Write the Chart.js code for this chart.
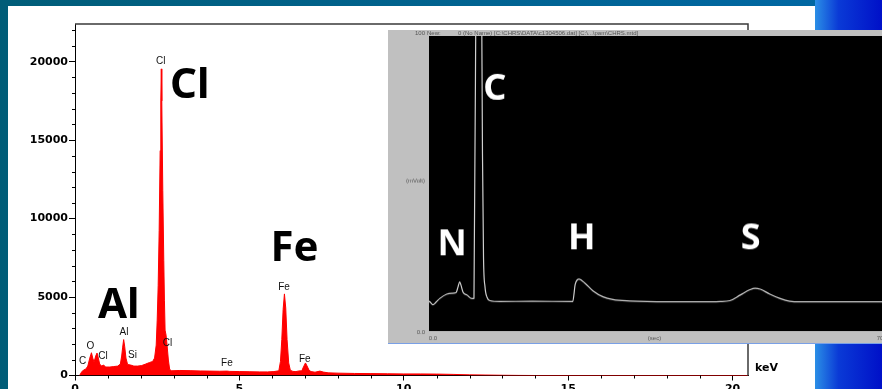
<!DOCTYPE html>
<html>
<head>
<meta charset="utf-8">
<script src="https://cdn.jsdelivr.net/npm/chart.js@4.4.1/dist/chart.umd.min.js"></script>
<style>
  body { margin: 0; width: 882px; height: 389px; overflow: hidden; position: relative;
         background: linear-gradient(to right, #005d78, #0068a6); }
  #panel { position: absolute; left: 8px; top: 6px; width: 807px; height: 383px; background: #fff; }
  #side { position: absolute; left: 815px; top: 0; width: 67px; height: 389px;
          background: linear-gradient(to right, #2b8fe6, #0a3ad6 35%, #0010c8); }
  #eds { position: absolute; left: 0; top: 0; }
  #gc { position: absolute; left: 388px; top: 30px; background: #c0c0c0; border-bottom: 1px solid #7aa0e6; }
</style>
</head>
<body>
<div id="panel"></div>
<div id="side"></div>
<canvas id="eds" width="815" height="400"></canvas>
<canvas id="gc" width="520" height="314"></canvas>
<script>
// EDS spectrum (keV / counts)
const keV = [
  0.14, 0.20, 0.26, 0.33, 0.39, 0.45, 0.50, 0.54, 0.58, 0.63,
  0.67, 0.71, 0.75, 0.81, 0.87, 0.93, 1.06, 1.18, 1.30, 1.38,
  1.42, 1.45, 1.48, 1.51, 1.55, 1.60, 1.69, 1.79, 1.91, 2.03,
  2.15, 2.27, 2.36, 2.42, 2.47, 2.50, 2.53, 2.56, 2.59, 2.61,
  2.625, 2.64, 2.67, 2.70, 2.72, 2.74, 2.77, 2.80, 2.84, 2.88,
  2.94, 3.19, 3.50, 3.81, 4.10, 4.40, 4.62, 4.71, 5.01, 5.32,
  5.62, 5.86, 6.05, 6.20, 6.25, 6.29, 6.33, 6.37, 6.41, 6.45,
  6.50, 6.55, 6.63, 6.72, 6.81, 6.90, 6.95, 7.01, 7.06, 7.12,
  7.18, 7.30, 7.45, 7.55, 7.70, 8.00, 8.50, 9.00, 9.50, 10.00,
  10.50, 11.00, 11.50, 12.00, 12.50, 13.00, 13.50, 14.00, 20.47
];
const counts = [
  0, 220, 350, 410, 600, 1110, 1450, 1110, 860, 1240,
  1430, 1110, 730, 600, 670, 540, 540, 570, 600, 730,
  1240, 1810, 2290, 1870, 1110, 700, 670, 600, 600, 635,
  730, 830, 890, 1110, 1940, 3530, 5750, 9240, 14330, 17500,
  19540, 17500, 11780, 7340, 4800, 2890, 2570, 1940, 985, 380,
  300, 320, 310, 290, 280, 270, 280, 260, 250, 240,
  230, 230, 250, 300, 900, 2300, 4200, 5200, 4300, 2300,
  800, 330, 260, 250, 290, 300, 550, 800, 600, 330,
  250, 210, 280, 220, 170, 150, 130, 120, 110, 100,
  100, 90, 70, 40, 30, 15, 5, 0, 0
];
const keVTicks = [0, 5, 10, 15, 20];
const countTicks = [0, 5000, 10000, 15000, 20000];

// small peak marks on the spectrum
const peakNames = ["C", "O", "Cl", "Al", "Si", "Cl", "Cl", "Fe", "Fe", "Fe"];
const peakKeV = [0.23, 0.47, 0.85, 1.49, 1.75, 2.61, 2.81, 4.62, 6.36, 6.99];
const peakCounts = [920, 1890, 1240, 2740, 1300, 20040, 2050, 780, 5600, 1030];

// big element names
const bigNames = ["Al", "Cl", "Fe"];
const bigKeV = [1.33, 3.49, 6.68];
const bigCounts = [4415, 18460, 8040];

// inset chromatogram (sec / mVolt)
const secs = [
  0, 0.31, 0.62, 1.09, 1.71, 2.75, 3.57, 4.19, 4.50, 4.76,
  4.97, 5.28, 5.90, 6.67, 6.98, 7.37, 7.76, 8.15, 8.30, 8.46,
  8.69, 9.00, 9.47, 11.0, 16.0, 22.3, 22.7, 23.3, 24.2, 25.45,
  27.0, 28.55, 31.2, 33.8, 42.1, 45.2, 46.7, 48.3, 49.8, 50.6,
  51.4, 52.9, 54.5, 56.0, 57.6, 70.3
];
const mvolt = [
  10.2, 9.5, 8.9, 9.8, 11.1, 12.5, 12.8, 13.0, 14.9, 16.7,
  15.5, 13.2, 12.2, 11.0, 11.1, 150, 200, 120, 60, 25,
  15, 11.5, 10.3, 10.0, 10.1, 10.0, 15.9, 17.6, 16.2, 13.6,
  11.6, 10.7, 10.2, 10.0, 9.9, 10.0, 10.3, 12.2, 14.0, 14.5,
  14.2, 12.5, 11.0, 10.1, 9.9, 9.9
];
const gcNames = ["N", "C", "H", "S"];
const gcSecs = [3.6, 10.2, 23.7, 49.9];
const gcMv = [29.0, 82.0, 31.0, 31.0];

const tickFont = { family: "DejaVu Sans", size: 11, weight: "bold" };

//draws the box, minor ticks and the element names
const edsExtras = {
  id: "edsExtras",
  afterDraw(chart) {
    const { ctx, chartArea: a, scales } = chart;
    const x = scales.x;
    const y = scales.y;
    ctx.save();
    ctx.strokeStyle = "#3a3a3a";
    ctx.lineWidth = 1.5;
    ctx.beginPath();
    ctx.moveTo(a.left, a.top);
    ctx.lineTo(a.right, a.top);
    ctx.lineTo(a.right, a.bottom);
    ctx.stroke();

    ctx.strokeStyle = "#000";
    ctx.lineWidth = 1;
    ctx.beginPath();
    for (let v = 1000; v < y.max; v += 1000) {
      if (v % 5000 === 0) continue;
      const py = Math.round(y.getPixelForValue(v)) + 0.5;
      ctx.moveTo(a.left - 3, py);
      ctx.lineTo(a.left, py);
    }
    for (let k = 1; k < x.max; k++) {
      if (k % 5 === 0) continue;
      const px = Math.round(x.getPixelForValue(k)) + 0.5;
      ctx.moveTo(px, a.bottom);
      ctx.lineTo(px, a.bottom + 3);
    }
    ctx.stroke();

    ctx.fillStyle = "#111";
    ctx.textAlign = "center";
    ctx.textBaseline = "middle";
    ctx.font = "10px 'Liberation Sans Narrow', 'Liberation Sans', sans-serif";
    peakNames.forEach((n, i) => {
      ctx.fillText(n, x.getPixelForValue(peakKeV[i]), y.getPixelForValue(peakCounts[i]));
    });

    ctx.fillStyle = "#000";
    ctx.font = "bold 42px 'Noto Sans', sans-serif";
    bigNames.forEach((n, i) => {
      ctx.fillText(n, x.getPixelForValue(bigKeV[i]), y.getPixelForValue(bigCounts[i]));
    });

    ctx.font = "bold 11px 'DejaVu Sans', sans-serif";
    ctx.textAlign = "left";
    ctx.fillText("keV", a.right + 7, a.bottom - 7);
    ctx.restore();
  },
};

function showSpectrum() {
  const points = keV.map((k, i) => ({ x: k, y: counts[i] }));
  const config = {
    type: "line",
    data: {
      datasets: [
        {
          data: points,
          borderColor: "#ff0000",
          backgroundColor: "#ff0000",
          borderWidth: 1,
          fill: "origin",
          pointRadius: 0,
          tension: 0,
        },
      ],
    },
    options: {
      responsive: false,
      animation: false,
      devicePixelRatio: 1,
      layout: { padding: { left: 8, top: 24, right: 67, bottom: 0 } },
      plugins: { legend: { display: false }, tooltip: { enabled: false } },
      scales: {
        x: {
          type: "linear",
          min: 0,
          max: 20.47,
          afterBuildTicks: (s) => { s.ticks = keVTicks.map((v) => ({ value: v })); },
          afterFit: (s) => { s.height = 24.5; },
          grid: { drawOnChartArea: false, tickLength: 5, tickColor: "#000" },
          border: { color: "#000", width: 1 },
          ticks: { font: tickFont, color: "#000", padding: 2, maxRotation: 0, callback: (v) => String(v) },
        },
        y: {
          min: 0,
          max: 22400,
          afterBuildTicks: (s) => { s.ticks = countTicks.map((v) => ({ value: v })); },
          afterFit: (s) => { s.width = 67; },
          grid: { drawOnChartArea: false, tickLength: 6, tickColor: "#000" },
          border: { color: "#000", width: 1 },
          ticks: { font: tickFont, color: "#000", padding: 1, callback: (v) => String(v) },
        },
      },
    },
    plugins: [edsExtras],
  };
  new Chart(document.getElementById("eds"), config);
}

//black plot area and the small captions of the inset
const gcExtras = {
  id: "gcExtras",
  beforeDraw(chart) {
    const { ctx, chartArea: a } = chart;
    ctx.save();
    ctx.fillStyle = "#000";
    ctx.fillRect(a.left, a.top, chart.width - a.left, a.bottom - a.top);
    ctx.restore();
  },
  afterDraw(chart) {
    const { ctx, chartArea: a, scales } = chart;
    const x = scales.x;
    const y = scales.y;
    ctx.save();
    ctx.fillStyle = "#555";
    ctx.font = "6px 'Liberation Sans', sans-serif";
    ctx.textBaseline = "middle";
    ctx.textAlign = "right";
    ctx.fillText("100", a.left - 4, a.top - 3);
    ctx.fillText("(mVolt)", a.left - 4, y.getPixelForValue(51));
    ctx.fillText("0.0", a.left - 4, a.bottom + 1);
    ctx.textAlign = "left";
    ctx.fillText("New:", a.left - 2, a.top - 3);
    ctx.fillText("0 (No Name) [C:\\CHRS\\DATA\\c1304506.dat] [C:\\...\\pam\\CHRS.mtd]", a.left + 29, a.top - 3);
    ctx.textAlign = "center";
    ctx.fillText("0.0", x.getPixelForValue(0) + 4, a.bottom + 7);
    ctx.fillText("(sec)", x.getPixelForValue(35), a.bottom + 7);
    ctx.fillText("70", x.getPixelForValue(70), a.bottom + 7);

    ctx.fillStyle = "#fff";
    ctx.font = "bold 36px 'Noto Sans', sans-serif";
    gcNames.forEach((n, i) => {
      ctx.fillText(n, x.getPixelForValue(gcSecs[i]), y.getPixelForValue(gcMv[i]));
    });
    ctx.restore();
  },
};

function showChromatogram() {
  const points = secs.map((s, i) => ({ x: s, y: mvolt[i] }));
  const config = {
    type: "line",
    data: {
      datasets: [
        {
          data: points,
          borderColor: "#cfcfcf",
          borderWidth: 1.2,
          pointRadius: 0,
          fill: false,
          cubicInterpolationMode: "monotone",
        },
      ],
    },
    options: {
      responsive: false,
      animation: false,
      devicePixelRatio: 1,
      layout: { padding: { left: 41, top: 6, right: 26, bottom: 12 } },
      plugins: { legend: { display: false }, tooltip: { enabled: false } },
      scales: {
        x: { type: "linear", display: false, min: 0, max: 70.3 },
        y: { display: false, min: 0, max: 100 },
      },
    },
    plugins: [gcExtras],
  };
  new Chart(document.getElementById("gc"), config);
}

showSpectrum();
showChromatogram();
</script>
</body>
</html>
